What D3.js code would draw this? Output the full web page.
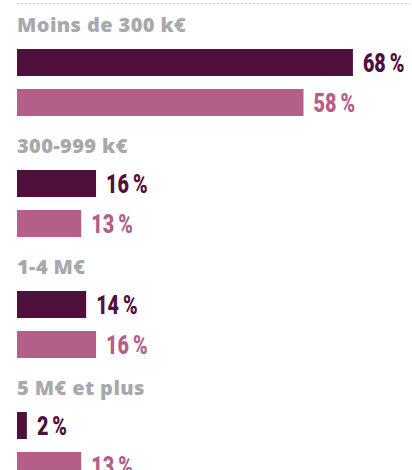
<!DOCTYPE html>
<html>
<head>
<meta charset="utf-8">
<script src="https://cdn.jsdelivr.net/npm/d3@7"></script>
<style>
  body { margin: 0; background: #fff; }
  svg { display: block; }
  .cat { font-family: "Open Sans", sans-serif; font-weight: 800; font-size: 20px; letter-spacing: 0.4px; fill: #a8a9ab; }
  .val { font-family: Roboto, sans-serif; font-weight: 900; font-size: 26px; }
</style>
</head>
<body>
<svg id="canvas" width="412" height="470"></svg>
<script>
// tranches de chiffre d'affaires
let categories = ['Moins de 300 k€', '300-999 k€', '1-4 M€', '5 M€ et plus']
let seriesA = [68, 16, 14, 2]
let seriesB = [58, 13, 16, 13]
let colors = ['#50103c', '#b45e8a']

let width = 412, height = 470
let left = 17
let canvas = d3.select('#canvas')

// dotted rule at top
canvas.append('line')
  .attr('x1', left).attr('x2', 410)
  .attr('y1', 3.5).attr('y2', 3.5)
  .attr('stroke', '#c8bcc3')
  .attr('stroke-width', 1)
  .attr('stroke-dasharray', '2,2')

let x = d3.scaleLinear().domain([0, 100]).range([0, 494])
let yGroup = d3.scaleBand().domain(categories).range([49, 49 + 4 * 121])

let barH = 27
let squeeze = 0.76

let groups = canvas.selectAll('g.grp')
  .data(categories)
  .enter()
  .append('g')
  .attr('class', 'grp')
  .attr('transform', (d) => 'translate(0,' + yGroup(d) + ')')

groups.append('text')
  .attr('class', 'cat')
  .attr('x', left)
  .attr('y', -17)
  .text((d) => d)

let rows = groups.selectAll('g.row')
  .data((d, i) => [{ v: seriesA[i], s: 0 }, { v: seriesB[i], s: 1 }])
  .enter()
  .append('g')
  .attr('class', 'row')
  .attr('transform', (d) => 'translate(0,' + (d.s * 40) + ')')

rows.append('rect')
  .attr('x', left)
  .attr('y', 0)
  .attr('width', (d) => x(d.v))
  .attr('height', barH)
  .attr('fill', (d) => colors[d.s])

// condensed value labels
rows.append('text')
  .attr('class', 'val')
  .attr('transform', (d) => 'translate(' + (left + x(d.v) + 10) + ',' + (barH / 2 + 9) + ') scale(' + squeeze + ',1)')
  .attr('fill', (d) => colors[d.s])
  .text((d) => d.v + '\u2009%')
</script>
</body>
</html>
